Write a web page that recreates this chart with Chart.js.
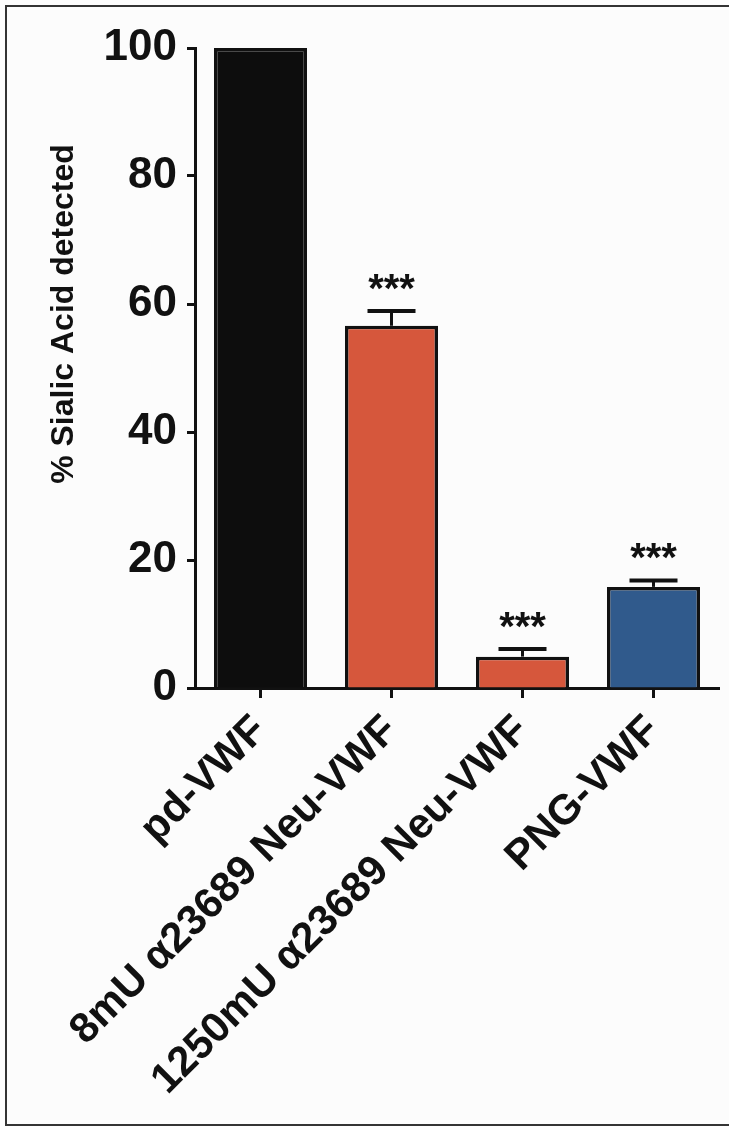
<!DOCTYPE html>
<html>
<head>
<meta charset="utf-8">
<script src="https://cdn.jsdelivr.net/npm/chart.js@4.4.0/dist/chart.umd.min.js"></script>
<style>
  html, body { margin: 0; padding: 0; background: #fcfcfc; }
  canvas { display: block; }
</style>
</head>
<body>
<canvas id="sialicChart" width="729" height="1130"></canvas>
<script>
// data
const categories = ['pd-VWF', '8mU \u03b123689 Neu-VWF', '1250mU \u03b123689 Neu-VWF', 'PNG-VWF'];
const sialicMean = [100, 56.6, 4.9, 15.8];
const sialicErr = [0, 2.3, 1.2, 1.0];
const significance = ['', '***', '***', '***'];
const yTicks = [0, 20, 40, 60, 80, 100];
const yTitle = '% Sialic Acid detected';

const barColors = ['#0d0d0d', '#d6573c', '#d6573c', '#305a8c'];
const fontFamily = "'Liberation Sans', Arial, Helvetica, sans-serif";

// page background + thin frame round the figure
const framePlugin = {
    id: 'frame',
    beforeDraw(chart) {
        const c = chart.ctx;
        c.save();
        c.fillStyle = '#fcfcfc';
        c.fillRect(0, 0, chart.width, chart.height);
        c.strokeStyle = '#333';
        c.lineWidth = 2;
        c.strokeRect(6, 6, chart.width + 10, 1119);
        c.restore();
    }
};

// y title is set above the middle of the axis in the original, so it is drawn here
const yTitlePlugin = {
    id: 'yTitle',
    afterDraw(chart) {
        const c = chart.ctx;
        c.save();
        c.translate(64, 314);
        c.rotate(-Math.PI / 2);
        c.font = 'bold 32px ' + fontFamily;
        c.fillStyle = '#111';
        c.textAlign = 'center';
        c.textBaseline = 'middle';
        c.fillText(yTitle, 0, 0);
        c.restore();
    }
};

// upper SEM whiskers and significance stars
const errorPlugin = {
    id: 'errorBars',
    afterDatasetsDraw(chart) {
        const c = chart.ctx;
        const y = chart.scales.y;
        const meta = chart.getDatasetMeta(0);
        c.save();
        c.strokeStyle = '#111';
        c.fillStyle = '#111';
        meta.data.forEach((bar, i) => {
            const top = y.getPixelForValue(sialicMean[i]);
            const capY = y.getPixelForValue(sialicMean[i] + sialicErr[i]);
            if (sialicErr[i] > 0) {
                c.lineWidth = 3;
                c.beginPath();
                c.moveTo(bar.x, top);
                c.lineTo(bar.x, capY);
                c.stroke();
                c.lineWidth = 4;
                c.beginPath();
                c.moveTo(bar.x - 24, capY);
                c.lineTo(bar.x + 24, capY);
                c.stroke();
            }
            if (significance[i]) {
                c.font = 'bold 40px ' + fontFamily;
                c.textAlign = 'center';
                c.textBaseline = 'alphabetic';
                c.fillText(significance[i], bar.x, capY - 9);
            }
        });
        c.restore();
    }
};

const ctx = document.getElementById('sialicChart').getContext('2d');

const sialicChart = new Chart(ctx, {
    type: 'bar',
    data: {
        labels: categories,
        datasets: [{
            data: sialicMean,
            backgroundColor: barColors,
            borderColor: '#111',
            borderWidth: 3.5,
            borderSkipped: 'bottom',
            barPercentage: 0.71,
            categoryPercentage: 1
        }]
    },
    options: {
        responsive: false,
        animation: false,
        events: [],
        layout: {
            padding: { top: 48, right: 10, bottom: 0, left: 0 }
        },
        plugins: {
            legend: { display: false },
            tooltip: { enabled: false }
        },
        scales: {
            x: {
                offset: true,
                border: { display: true, width: 3, color: '#111' },
                grid: {
                    display: true,
                    offset: false,
                    drawOnChartArea: false,
                    drawTicks: true,
                    tickLength: 10,
                    tickWidth: 3,
                    tickColor: '#111'
                },
                ticks: {
                    minRotation: 45,
                    maxRotation: 45,
                    autoSkip: false,
                    padding: 8,
                    color: '#111',
                    font: { family: fontFamily, size: 42, weight: 'bold' }
                },
                afterFit(scale) {
                    scale.height = 442;
                }
            },
            y: {
                min: 0,
                max: 100,
                border: { display: true, width: 3, color: '#111' },
                grid: {
                    display: true,
                    drawOnChartArea: false,
                    drawTicks: true,
                    tickLength: 8,
                    tickWidth: 3,
                    tickColor: '#111'
                },
                afterBuildTicks(scale) {
                    scale.ticks = yTicks.map(v => ({ value: v }));
                },
                ticks: {
                    padding: 10,
                    color: '#111',
                    font: { family: fontFamily, size: 44, weight: 'bold' }
                },
                afterFit(scale) {
                    scale.width = 195;
                }
            }
        }
    },
    plugins: [framePlugin, errorPlugin, yTitlePlugin]
});
</script>
</body>
</html>
